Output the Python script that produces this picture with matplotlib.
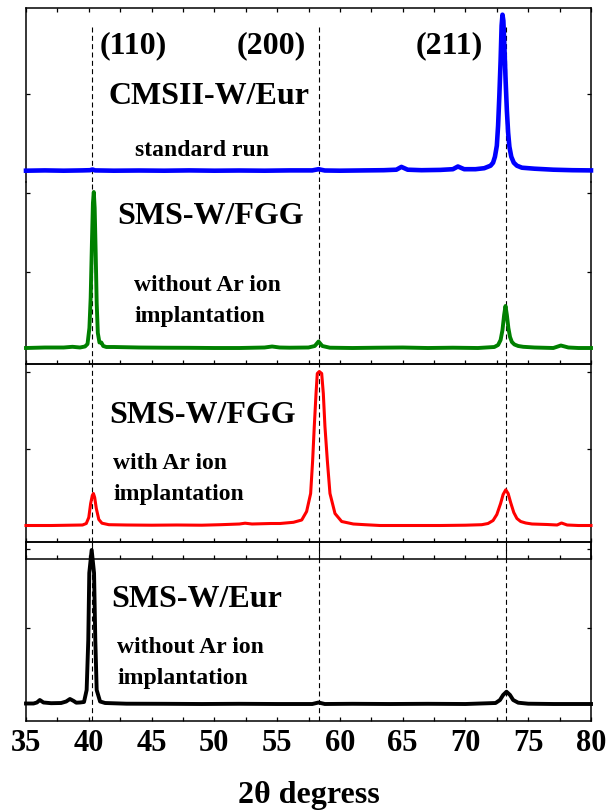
import matplotlib
matplotlib.use("Agg")
import matplotlib.pyplot as plt
from matplotlib.ticker import MultipleLocator

# XRD patterns, intensity in arbitrary units (baseline = 0)
x_cms = [35, 36.5, 38, 39.5, 40.1, 40.3, 40.5, 42, 44, 46, 48, 50, 52, 54, 56, 57.8, 58.3, 58.8,
         60, 62, 63.5, 64.5, 64.9, 65.4, 66.5, 68, 69.0, 69.4, 69.9, 70.8, 71.5, 72.0, 72.2, 72.35,
         72.5, 72.6, 72.7, 72.8, 72.88, 72.95, 73.02, 73.1, 73.2, 73.3, 73.4, 73.5, 73.65, 73.85,
         74.1, 74.5, 75.5, 77, 78.5, 80]
y_cms = [0, 0.3, 0, 0.3, 0.5, 1.2, 0.3, 0, 0.2, 0, 0.3, 0, 0.2, 0, 0.3, 0.3, 1.5, 0.2,
         0, 0.3, 0.5, 1.0, 3.8, 1.0, 0.5, 0.8, 1.5, 4.2, 1.5, 1.5, 2.5, 5, 8, 14,
         25, 45, 75, 110, 145, 156, 150, 125, 90, 60, 38, 24, 14, 8,
         5, 3, 2, 1, 0.5, 0.3]

x_fgg = [35, 36.5, 38, 38.7, 39.3, 39.7, 39.9, 40.05, 40.15, 40.25, 40.33, 40.4, 40.47, 40.55, 40.63,
         40.72, 40.85, 41.0, 41.15, 41.4, 42, 44, 46, 48, 50, 52, 54, 54.6, 55.2, 56, 57.5, 58.0,
         58.3, 58.6, 59.2, 61, 63, 65, 67, 69, 71, 72.3, 72.6, 72.8, 72.95, 73.08, 73.19, 73.3,
         73.42, 73.55, 73.7, 73.9, 74.2, 74.6, 75.5, 77, 77.6, 78.2, 79, 80]
y_fgg = [0, 0.5, 0.5, 1.2, 0.5, 1.5, 4, 20, 50, 105, 145, 156, 140, 95, 45,
         15, 5.5, 5.5, 2, 1, 1, 0.5, 0.3, 0.2, 0, 0, 0.5, 1.5, 0.5, 0.3, 0.5, 2,
         6.5, 2, 0.3, 0, 0.3, 0.5, 0, 0.3, 0, 1, 3, 8, 18, 33, 42, 33,
         20, 11, 6, 3.5, 2, 1.2, 0.5, 0, 2.5, 0.5, 0, 0]

x_fgg_ar = [35, 37, 38.5, 39.5, 39.8, 40.0, 40.15, 40.28, 40.37, 40.47, 40.6, 40.8, 41.05, 41.6,
            43, 45, 47, 49, 50.5, 52, 52.45, 53, 54.5, 55.23, 56.3, 56.96, 57.35, 57.67, 57.83,
            57.96, 58.1, 58.2, 58.36, 58.55, 58.68, 58.81, 59.0, 59.21, 59.61, 60.14, 61.07, 62,
            63.2, 64, 66, 68, 70, 71.3, 71.8, 72.2, 72.5, 72.8, 73.0, 73.21, 73.4, 73.6, 73.85,
            74.1, 74.4, 74.8, 75.3, 76.5, 77.3, 77.65, 78.1, 79, 80]
y_fgg_ar = [0, 0, 0.3, 0.5, 2, 8, 22, 30, 32, 28, 17, 6, 2.3, 0.8,
            0.5, 0.3, 0.5, 0.3, 0.8, 1.5, 2.3, 1.5, 2, 2, 3.2, 5.5, 14, 32, 65,
            99, 132, 152, 154, 152, 132, 99, 65, 32, 12, 4, 1.5, 0.8,
            0, 0, 0, 0, 0.3, 0.8, 2, 5, 11, 22, 31, 35.7, 32, 23, 13,
            7, 4, 2.5, 1.5, 1, 0.5, 2.5, 0.5, 0, 0]

x_eur = [35, 35.6, 35.87, 36.1, 36.39, 37, 37.8, 38.2, 38.5, 38.8, 39.0, 39.3, 39.62, 39.83, 39.96,
         40.04, 40.23, 40.42, 40.52, 40.63, 40.9, 41.3, 43, 46, 49, 52, 55, 57.8, 58.3, 58.8, 61,
         64, 67, 70, 72.4, 72.75, 73.0, 73.27, 73.55, 73.8, 74.2, 75, 77, 80]
y_eur = [0.5, 0.5, 1.5, 4, 1.5, 0.8, 1, 2.5, 5, 3, 1.3, 1.5, 2, 14, 64,
         131, 154, 131, 64, 14, 2.5, 1, 0.3, 0.2, 0, 0.2, 0, 0, 1.5, 0, 0.2,
         0, 0.2, 0, 1, 4, 9, 12.3, 9, 4, 1.3, 0.3, 0, 0]

peaks = [40.28, 58.3, 73.2]
peak_labels = ["(110)", "(200)", "(211)"]

W, H = 608, 810
X0, X1 = 26, 591
serif = "Liberation Serif"

fig = plt.figure(figsize=(W / 100, H / 100), dpi=100)


def add_panel(top, bottom, base):
    ax = fig.add_axes([X0 / W, 1 - bottom / H, (X1 - X0) / W, (bottom - top) / H])
    ax.set_xlim(35, 80)
    ax.set_ylim(base - bottom, base - top)
    ax.patch.set_alpha(0)
    for s in ax.spines.values():
        s.set_linewidth(1.1)
    ax.xaxis.set_major_locator(MultipleLocator(5))
    ax.xaxis.set_minor_locator(MultipleLocator(2.5))
    ax.tick_params(which="both", direction="in", length=3, width=0.9,
                   labelbottom=False, labelleft=False, left=True, right=True)
    return ax


def set_yticks(ax, base, tick_px):
    ax.set_yticks([base - p for p in tick_px])


ax1 = add_panel(8, 182, 170.7)
ax1.spines["bottom"].set_visible(False)
ax1.tick_params(which="both", top=True, bottom=False)
set_yticks(ax1, 170.7, [94])

ax2 = add_panel(182, 364, 348)
ax2.spines["top"].set_visible(False)
set_yticks(ax2, 348, [193, 272])

ax3 = add_panel(364, 542, 525.5)
set_yticks(ax3, 525.5, [372, 449])

strip = add_panel(542, 559, 0)
strip.spines["top"].set_visible(False)
strip.set_yticks([])

ax4 = add_panel(542, 721, 704)
set_yticks(ax4, 704, [549, 628])
ax4.tick_params(labelbottom=True, labelsize=22, pad=6)
for t in ax4.get_xticklabels():
    t.set_fontfamily(serif)
    t.set_fontweight("bold")
ax4.set_xlabel("2θ degress", fontsize=23, fontfamily=serif, fontweight="bold", labelpad=16)

ax1.plot(x_cms, y_cms, color="#0000ff", lw=3.3, clip_on=False, zorder=3)
ax2.plot(x_fgg, y_fgg, color="#008000", lw=2.8, clip_on=False, zorder=3)
ax3.plot(x_fgg_ar, y_fgg_ar, color="#ff0000", lw=2.2, clip_on=False, zorder=3)
ax4.plot(x_eur, y_eur, color="black", lw=2.8, clip_on=False, zorder=3)

# dashed guides at the W reflections
dash = dict(color="black", lw=0.8, ls=(0, (4.5, 3)), zorder=1)
for p in peaks:
    ax1.axvline(p, ymin=0, ymax=(182 - 25) / (182 - 8), **dash)
    for ax in (ax2, ax3, strip, ax4):
        ax.axvline(p, **dash)


def label(px, py, s, size):
    fig.text(px / W, 1 - py / H, s, fontsize=size, fontfamily=serif,
             fontweight="bold", ha="left", va="baseline")


for px, s in zip([100, 237, 416], peak_labels):
    label(px, 53, s, 23)

label(108, 104, "CMSII-W/Eur", 23)
label(135, 156, "standard run", 17)

label(117, 224, "SMS-W/FGG", 23)
label(134, 291, "without Ar ion", 17)
label(134, 322, "implantation", 17)

label(109, 423, "SMS-W/FGG", 23)
label(113, 469, "with Ar ion", 17)
label(113, 500, "implantation", 17)

label(111, 607, "SMS-W/Eur", 23)
label(117, 653, "without Ar ion", 17)
label(117, 684, "implantation", 17)

fig.savefig("out.png", dpi=100)
